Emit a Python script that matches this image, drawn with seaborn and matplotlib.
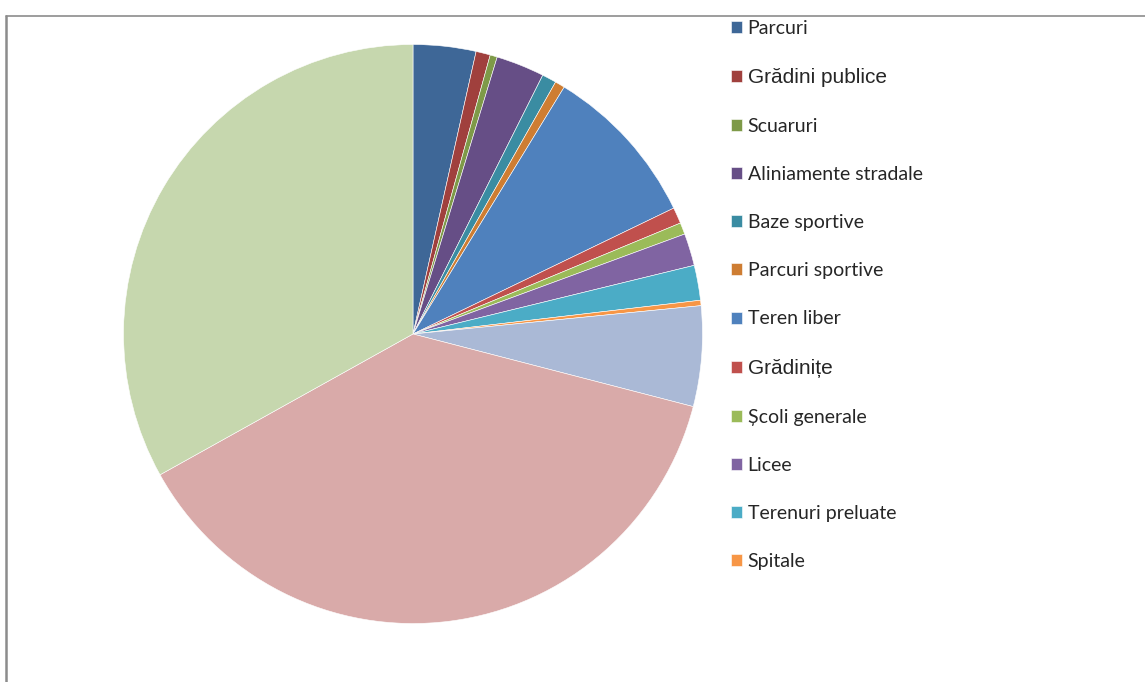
import matplotlib.pyplot as plt
import seaborn as sns
from matplotlib.lines import Line2D

# categories shown in the legend (the last three slices have no legend entry)
labels = ["Parcuri", "Grădini publice", "Scuaruri", "Aliniamente stradale",
          "Baze sportive", "Parcuri sportive", "Teren liber", "Grădinițe",
          "Școli generale", "Licee", "Terenuri preluate", "Spitale"]
values = [3.5, 0.8, 0.4, 2.7, 0.8, 0.55, 9.1, 0.9, 0.65, 1.8, 1.95, 0.3]
extra_values = [5.6, 37.9, 33.1]

colors = ["#3E6797", "#A0403D", "#7E9A48", "#664E86", "#3A8CA2", "#CE7D32",
          "#4F81BD", "#C0504D", "#9BBB59", "#8064A2", "#4BACC6", "#F79646",
          "#AAB9D6", "#D9AAA9", "#C6D7AE"]

sns.set_theme(style="white")
plt.rcParams["font.family"] = ["Lato", "DejaVu Sans"]

W, H = 1145, 682
fig = plt.figure(figsize=(W / 100, H / 100), dpi=100)

# pie centre (413, 334), radius ~289 px
cx, cy, r = 413, 334, 289.5
ax = fig.add_axes([(cx - r) / W, (H - cy - r) / H, 2 * r / W, 2 * r / H])
wedges, _ = ax.pie(values + extra_values, colors=colors, startangle=90,
                   counterclock=False, radius=1,
                   wedgeprops=dict(linewidth=0.4, edgecolor="white"))
ax.set_xlim(-1, 1)
ax.set_ylim(-1, 1)
ax.set_aspect("equal")
ax.axis("off")

leg = fig.legend(wedges[:len(labels)], labels, loc="upper left",
                 bbox_to_anchor=(723 / W, (H - 12) / H), frameon=False,
                 fontsize=14, handlelength=0.57, handleheight=0.57,
                 handletextpad=0.3, labelspacing=1.6, borderaxespad=0)
for t in leg.get_texts():
    if t.get_text() in ("Grădini publice", "Grădinițe"):
        t.set_fontfamily(["Liberation Sans", "DejaVu Sans"])
        t.set_fontsize(15)

# chart area border (top and left edges visible)
fig.add_artist(Line2D([6 / W, 1], [(H - 16) / H] * 2, color="#8C8C8C", lw=1.2))
fig.add_artist(Line2D([6 / W] * 2, [0, (H - 16) / H], color="#8C8C8C", lw=1.8))

fig.savefig("out.png", dpi=100)
